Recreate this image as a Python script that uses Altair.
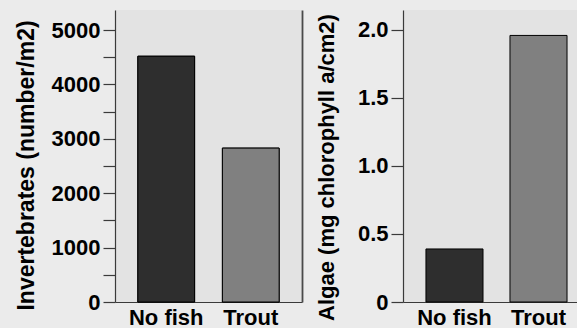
import altair as alt
import pandas as pd

# Stream survey: invertebrate density and algal biomass with and without trout
treatments = ["No fish", "Trout"]
invertebrates = [4520, 2830]   # number per m2
algae = [0.39, 1.96]           # mg chlorophyll a per cm2
bar_colors = ["#2e2e2e", "#808080"]

inv_ticks = list(range(0, 5001, 500))
alg_ticks = [0, 0.5, 1.0, 1.5, 2.0]

inv_df = pd.DataFrame({"treatment": treatments, "value": invertebrates, "color": bar_colors})
alg_df = pd.DataFrame({"treatment": treatments, "value": algae, "color": bar_colors})

FONT = "Liberation Sans"
AXIS_COLOR = "#3a3a3a"
PLOT_H = 292


def x_enc(pad_inner, pad_outer, align):
    return alt.X(
        "treatment:N",
        sort=treatments,
        scale=alt.Scale(paddingInner=pad_inner, paddingOuter=pad_outer, align=align),
        axis=alt.Axis(title=None, labelAngle=0, ticks=False, labelPadding=5,
                      domainColor=AXIS_COLOR, domainWidth=1.2),
    )


# Left panel: invertebrates, with a frame line on its right edge
inv_scale = alt.Scale(domain=[0, 5370], nice=False)
inv_bars = alt.Chart(inv_df).mark_bar(stroke="black", strokeWidth=1).encode(
    x=x_enc(0.329, 0.2706, 0.5),
    y=alt.Y("value:Q", scale=inv_scale,
            axis=alt.Axis(title="Invertebrates (number/m2)", values=inv_ticks,
                          labelExpr="datum.value % 1000 == 0 ? datum.value : ''",
                          grid=False, tickSize=12, labelPadding=3,
                          titlePadding=13, titleFontSize=23, titleY=155)),
    color=alt.Color("color:N", scale=None),
)
inv_frame = alt.Chart(inv_df).mark_bar(stroke="black", strokeWidth=1).encode(
    x=alt.X("treatment:N", sort=treatments),
    y=alt.Y("value:Q", scale=inv_scale,
            axis=alt.Axis(title=None, labels=False, ticks=False, grid=False,
                          orient="right", domainWidth=1.8, domainColor="#4a4a4a")),
    color=alt.Color("color:N", scale=None),
)
left = alt.layer(inv_bars, inv_frame).resolve_axis(y="independent").properties(
    width=187, height=PLOT_H)

# Right panel: algae
alg_bars = alt.Chart(alg_df).mark_bar(stroke="black", strokeWidth=1).encode(
    x=x_enc(0.321, 0.196, 0.697),
    y=alt.Y("value:Q", scale=alt.Scale(domain=[0, 2.147], nice=False),
            axis=alt.Axis(title="Algae (mg chlorophyll a/cm2)", values=alg_ticks,
                          labelExpr="datum.value == 0 ? '0' : format(datum.value, '.1f')",
                          grid=False, tickSize=12, labelPadding=3,
                          titlePadding=19, titleFontSize=22, titleY=157)),
    color=alt.Color("color:N", scale=None),
)
right = alg_bars.properties(width=174, height=PLOT_H)

chart = alt.hconcat(left, right, spacing=13).properties(
    background="#ebebeb",
    padding={"left": 15, "top": 10, "right": 0, "bottom": 0},
).configure_view(
    fill="#e3e3e3", stroke=None
).configure_axis(
    labelFont=FONT, labelFontSize=22, labelFontWeight="bold", labelColor="black",
    titleFont=FONT, titleFontSize=22, titleFontWeight="bold", titleColor="black",
    domainColor=AXIS_COLOR, tickColor=AXIS_COLOR, domainWidth=1.2, tickWidth=1.2,
)

chart.save("out.html", embed_options={"renderer": "svg", "actions": False})
